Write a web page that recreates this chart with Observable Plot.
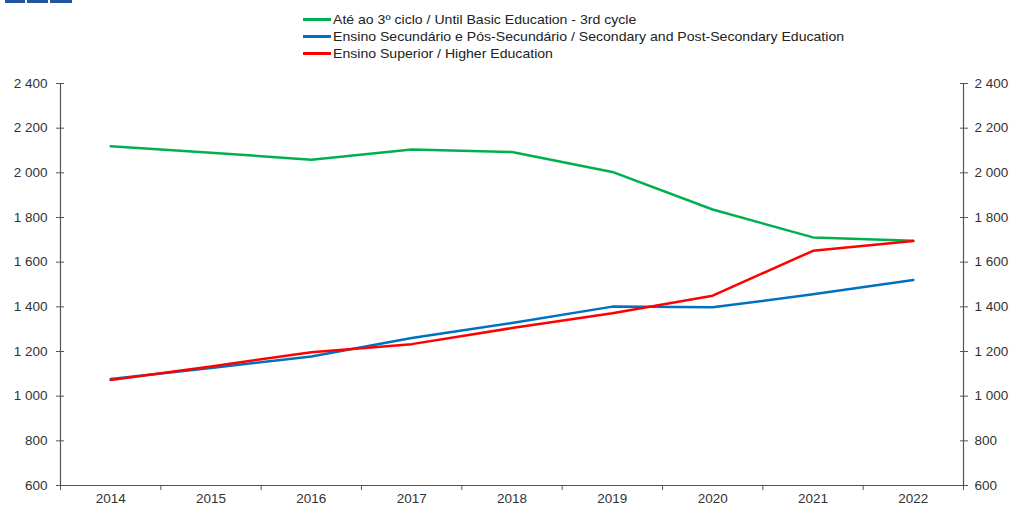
<!DOCTYPE html>
<html>
<head>
<meta charset="utf-8">
<script src="https://cdn.jsdelivr.net/npm/d3@7"></script>
<script src="https://cdn.jsdelivr.net/npm/@observablehq/plot@0.6"></script>
<style>
  html, body { margin: 0; padding: 0; background: #fff; }
  body { width: 1011px; height: 506px; position: relative; overflow: hidden; font-family: "Liberation Sans", Arial, sans-serif; }
  #logo span { position: absolute; top: 0; height: 3px; background: #2356a0; }
  #legend { position: relative; height: 70px; }
  .row { position: absolute; left: 303px; height: 16px; display: flex; align-items: center; color: #222; white-space: nowrap; }
  .row .sw { width: 28px; height: 3px; margin-right: 2px; }
  .row .tx { font-size: 13px; display: inline-block; transform: scaleX(1.083); transform-origin: left center; }
  #chart svg { display: block; }
</style>
</head>
<body>
<div id="logo"><span style="left:5px;width:20px"></span><span style="left:27px;width:21px"></span><span style="left:50px;width:22px"></span></div>
<div id="legend"></div>
<div id="chart"></div>
<script>
// ---- data ----
const years = [2014, 2015, 2016, 2017, 2018, 2019, 2020, 2021, 2022];
const basicEducation = [2119, 2090, 2059, 2104, 2093, 2004, 1836, 1711, 1696];
const secondaryEducation = [1077, 1126, 1178, 1260, 1328, 1401, 1398, 1456, 1520];
const higherEducation = [1072, 1133, 1197, 1233, 1305, 1371, 1450, 1651, 1695];
const seriesNames = [
  "Até ao 3º ciclo / Until Basic Education - 3rd cycle",
  "Ensino Secundário e Pós-Secundário / Secondary and Post-Secondary Education",
  "Ensino Superior / Higher Education"
];
const seriesColors = ["#00b050", "#0070c0", "#ff0000"];
const yTicks = [600, 800, 1000, 1200, 1400, 1600, 1800, 2000, 2200, 2400];
const xDomain = [2013.5, 2022.5];
const xBoundaryTicks = [2013.5, 2014.5, 2015.5, 2016.5, 2017.5, 2018.5, 2019.5, 2020.5, 2021.5, 2022.5];

// ---- table ----
const seriesValues = [basicEducation, secondaryEducation, higherEducation];
const data = [];
seriesNames.forEach((name, i) => {
  years.forEach((y, j) => data.push({series: name, year: y, value: seriesValues[i][j]}));
});

// ---- legend ----
const legend = document.getElementById("legend");
seriesNames.forEach((name, i) => {
  const row = document.createElement("div");
  row.className = "row";
  row.style.top = (11 + i * 17) + "px";
  row.innerHTML = `<span class="sw" style="background:${seriesColors[i]}"></span><span class="tx">${name}</span>`;
  legend.appendChild(row);
});

const fmt = d => d >= 1000 ? d3.format(",")(d).replace(",", " ") : String(d);
const axisColor = "#555";
const textColor = "#333";

const chart = Plot.plot({
  width: 1011,
  height: 436,
  marginLeft: 60,
  marginRight: 48,
  marginTop: 13,
  marginBottom: 21,
  style: {fontFamily: "Liberation Sans, Arial, sans-serif", fontSize: "13.5px", color: textColor, background: "#fff"},
  x: {domain: xDomain},
  y: {domain: [600, 2400]},
  color: {domain: seriesNames, range: seriesColors},
  marks: [
    Plot.ruleX(xDomain, {stroke: axisColor, strokeWidth: 1.2}),
    Plot.ruleY([600], {stroke: axisColor, strokeWidth: 1.2}),
    Plot.axisY({anchor: "left", ticks: yTicks, tickFormat: fmt, tickSize: 8, dx: 4, tickPadding: 9, stroke: axisColor, fill: textColor, label: null}),
    Plot.axisY({anchor: "right", ticks: yTicks, tickFormat: fmt, tickSize: 8, dx: -4, tickPadding: 7, stroke: axisColor, fill: textColor, label: null}),
    Plot.axisX({ticks: xBoundaryTicks, tickSize: 5, tickFormat: () => "", stroke: axisColor, label: null}),
    Plot.axisX({ticks: years, tickSize: 0, tickPadding: 8, tickFormat: d => String(d), fill: textColor, label: null}),
    Plot.line(data, {x: "year", y: "value", z: "series", stroke: "series", strokeWidth: 2.5})
  ]
});
document.getElementById("chart").appendChild(chart);
</script>
</body>
</html>
